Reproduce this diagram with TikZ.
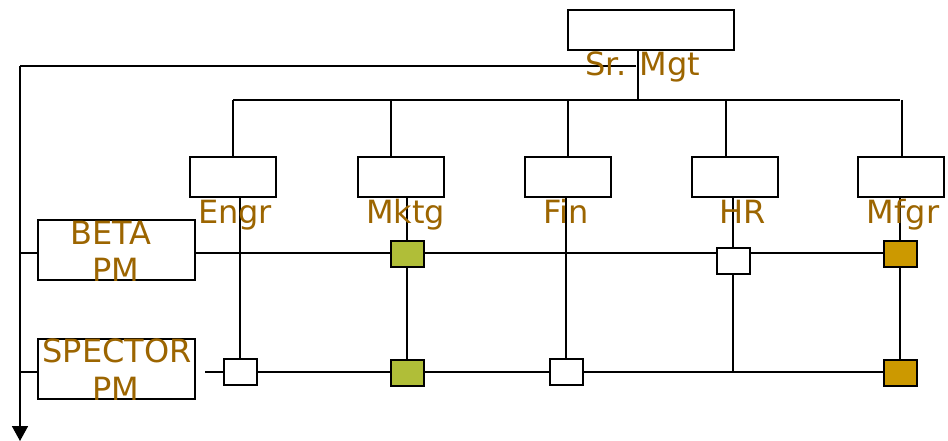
\documentclass[tikz,border=0pt]{standalone}
\usepackage{fontspec}
\setmainfont{DejaVu Sans}
\usetikzlibrary{arrows.meta,backgrounds}
\definecolor{labelcol}{RGB}{156,101,0}
\definecolor{greenfill}{RGB}{176,190,56}
\definecolor{orangefill}{RGB}{204,153,0}
\tikzset{
  box/.style={draw=black,line width=2pt,fill=white,rectangle,inner sep=0pt,outer sep=0pt},
  bigbox/.style={box,minimum width=86pt,minimum height=40pt},
  pmbox/.style={box,minimum width=157pt,minimum height=60pt},
  cell/.style={box,minimum width=33pt,minimum height=26pt},
  greencell/.style={cell,fill=greenfill},
  orangecell/.style={cell,fill=orangefill},
  lbl/.style={text=labelcol,font=\fontsize{32}{38}\selectfont,inner sep=0pt,anchor=base},
  conn/.style={line width=1.7pt,draw=black},
}
\begin{document}
\begin{tikzpicture}[x=1pt,y=-1pt]
\useasboundingbox (0,0) rectangle (948,441);
% boxes
\node[box,minimum width=166pt,minimum height=40pt] (srmgt) at (651,30.5) {};
\node[bigbox] (engr) at (233,177) {};
\node[bigbox] (mktg) at (400.5,177) {};
\node[bigbox] (fin)  at (567.5,177) {};
\node[bigbox] (hr)   at (735,177) {};
\node[bigbox] (mfgr) at (900.5,177) {};
\node[pmbox] (beta) at (116.5,250) {};
\node[pmbox] (spector) at (116.5,368.5) {};
% cells
\node[greencell]  (mk1) at (407,253.8) {};
\node[cell]       (hr1) at (733,261) {};
\node[orangecell] (mf1) at (900.3,253.8) {};
\node[cell]       (en2) at (240,372.2) {};
\node[greencell]  (mk2) at (407,372.5) {};
\node[cell]       (fi2) at (566,372.3) {};
\node[orangecell] (mf2) at (900.3,372.5) {};
% coordinates
\coordinate (topbus) at (638,100);
\coordinate (busL) at (233,100);
\coordinate (busR) at (900,100);
\coordinate (mktgtop) at (391,100);
\coordinate (fintop) at (568,100);
\coordinate (hrtop) at (726,100);
\coordinate (mfgrtop) at (902,100);
\coordinate (hline) at (636,66);
\coordinate (corner) at (20,66);
\coordinate (arrowend) at (20,441);
\coordinate (row1) at (20,253.3);
\coordinate (row2) at (20,372.3);
\coordinate (spstart) at (205,372.3);
\coordinate (hrbot) at (733,372.3);
\begin{scope}[on background layer]
\draw[conn] (srmgt.south -| topbus) -- (topbus);
\draw[conn] (busL) -- (busR);
\draw[conn] (busL) -- (engr.north);
\draw[conn] (mktgtop) -- (mktg.north -| mktgtop);
\draw[conn] (fintop) -- (fin.north -| fintop);
\draw[conn] (hrtop) -- (hr.north -| hrtop);
\draw[conn] (mfgrtop) -- (mfgr.north -| mfgrtop);
\draw[conn] (hline) -- (corner);
\draw[conn,-{Triangle[width=16pt,length=15pt]}] (corner) -- (arrowend);
\draw[conn] (row1) -- (beta.west |- row1);
\draw[conn] (row2) -- (spector.west |- row2);
\draw[conn] (beta.east |- row1) -- (mf1.west |- row1);
\draw[conn] (spstart) -- (mf2.west |- spstart);
\draw[conn] (engr.south -| en2) -- (en2.north);
\draw[conn] (mktg.south -| mk1) -- (mk1.north);
\draw[conn] (mk1.south) -- (mk2.north);
\draw[conn] (fin.south -| fi2) -- (fi2.north);
\draw[conn] (hr.south -| hr1) -- (hr1.north);
\draw[conn] (hr1.south) -- (hrbot);
\draw[conn] (mfgr.south -| mf1) -- (mf1.north);
\draw[conn] (mf1.south) -- (mf2.north);
\end{scope}
% labels
\node[lbl] (lsr) at (643,76) {Sr. Mgt};
\node[lbl] (len) at (235,223.5) {Engr};
\node[lbl] (lmk) at (405.5,223) {Mktg};
\node[lbl] (lfi) at (566,223) {Fin};
\node[lbl] (lhr) at (742.5,223) {HR};
\node[lbl] (lmf) at (903,223) {Mfgr};
\node[lbl] (lb1) at (111,244) {BETA};
\node[lbl] (lb2) at (116,281) {PM};
\node[lbl] (ls1) at (117,362.7) {SPECTOR};
\node[lbl] (ls2) at (116,400.7) {PM};
\end{tikzpicture}
\end{document}
